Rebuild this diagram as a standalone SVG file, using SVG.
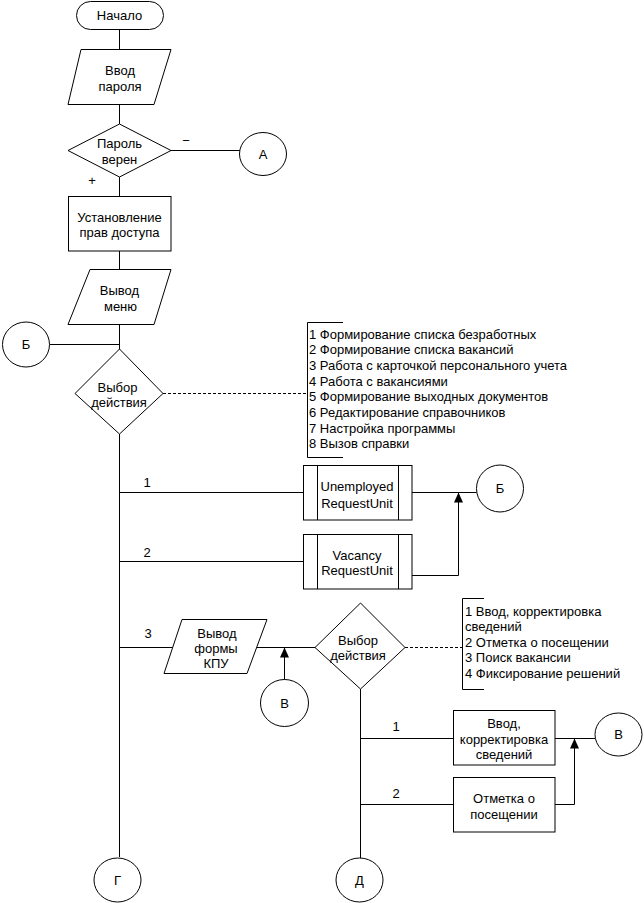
<svg xmlns="http://www.w3.org/2000/svg" width="644" height="903" viewBox="0 0 644 903">
<style>
.s{fill:#fff;stroke:#000;stroke-width:1}
.l{fill:none;stroke:#000;stroke-width:1}
.d{fill:none;stroke:#000;stroke-width:1;stroke-dasharray:3,2}
text{font-family:"Liberation Sans",Arial,sans-serif;font-size:13px;fill:#000}
.c{text-anchor:middle}
</style>
<defs>
<marker id="ah" markerUnits="userSpaceOnUse" markerWidth="10" markerHeight="9" refX="10" refY="4.5" orient="auto">
<path d="M0,0 L10,4.5 L0,9 z" fill="#000"/>
</marker>
</defs>
<g id="connectors">
<path class="l" d="M119.5,29 V49"/>
<path class="l" d="M119.5,104 V124"/>
<path class="l" d="M119.5,177 V196"/>
<path class="l" d="M119.5,251 V269"/>
<path class="l" d="M119.5,324 V349"/>
<path class="l" d="M119.5,434 V857"/>
<path class="l" d="M171,150.5 H240"/>
<path class="l" d="M49.5,344.5 H119.5"/>
<path class="d" d="M163,393.5 H307"/>
<path class="l" d="M119.5,492.5 H303"/>
<path class="l" d="M119.5,561.5 H303"/>
<path class="l" d="M412,492.5 H476.5"/>
<path class="l" d="M412,575.5 H458.5 V492.5" marker-end="url(#ah)"/>
<path class="l" d="M119.5,647.5 H173"/>
<path class="l" d="M257,647.5 H315"/>
<path class="l" d="M284.5,680 V647.5" marker-end="url(#ah)"/>
<path class="l" d="M360.5,689 V858"/>
<path class="d" d="M405,647.5 H462"/>
<path class="l" d="M360.5,738.5 H453"/>
<path class="l" d="M360.5,804.5 H453"/>
<path class="l" d="M555,738.5 H595"/>
<path class="l" d="M555,804.5 H574.5 V738.5" marker-end="url(#ah)"/>
<text x="186" y="144.5" class="c">−</text>
<text x="92" y="184.5" class="c">+</text>
<text x="147" y="486.5" class="c">1</text>
<text x="147" y="556.5" class="c">2</text>
<text x="148" y="637.5" class="c">3</text>
<text x="396" y="730.5" class="c">1</text>
<text x="396" y="797.5" class="c">2</text>
</g>
<g id="start">
<rect class="s" x="76.5" y="1.5" width="87" height="28" rx="14" ry="14"/>
<text x="119.5" y="19.5" class="c">Начало</text>
</g>
<g id="input-password">
<polygon class="s" points="81,49.5 171,49.5 154,104.5 68,104.5"/>
<text x="120" y="74.5" class="c">Ввод</text>
<text x="120" y="90.5" class="c">пароля</text>
</g>
<g id="check-password">
<polygon class="s" points="119.5,124 171,150.5 119.5,177 68,150.5"/>
<text x="119.5" y="147.5" class="c">Пароль</text>
<text x="119.5" y="163.5" class="c">верен</text>
</g>
<g id="conn-A">
<ellipse class="s" cx="263" cy="154" rx="23.5" ry="21.5"/>
<text x="263" y="158.5" class="c">А</text>
</g>
<g id="set-rights">
<rect class="s" x="68.5" y="196.5" width="102.5" height="54.5"/>
<text x="119.5" y="221.5" class="c">Установление</text>
<text x="119.5" y="236.5" class="c">прав доступа</text>
</g>
<g id="output-menu">
<polygon class="s" points="90,269.5 171,269.5 154,324.5 68,324.5"/>
<text x="119.5" y="294.5" class="c">Вывод</text>
<text x="120.5" y="310.5" class="c">меню</text>
</g>
<g id="conn-B-left">
<ellipse class="s" cx="26" cy="344.5" rx="23.5" ry="22.5"/>
<text x="26" y="349" class="c">Б</text>
</g>
<g id="choose-action">
<polygon class="s" points="119.5,349 163,393.5 119.5,434 75,393.5"/>
<text x="117.5" y="391.5" class="c">Выбор</text>
<text x="119" y="406.5" class="c">действия</text>
</g>
<g id="menu-list">
<path class="l" d="M343,322.5 H307.5 V457.5 H343"/>
<text x="309" y="338.5">1 Формирование списка безработных</text>
<text x="309" y="354.2">2 Формирование списка вакансий</text>
<text x="309" y="369.9">3 Работа с карточкой персонального учета</text>
<text x="309" y="385.6">4 Работа с вакансиями</text>
<text x="309" y="401.3">5 Формирование выходных документов</text>
<text x="309" y="417">6 Редактирование справочников</text>
<text x="309" y="432.7">7 Настройка программы</text>
<text x="309" y="448.4">8 Вызов справки</text>
</g>
<g id="unemployed-unit">
<rect class="s" x="303.5" y="465.5" width="108.5" height="54.5"/>
<path class="l" d="M317.5,465.5 V520 M398.5,465.5 V520"/>
<text x="357" y="490.5" class="c">Unemployed</text>
<text x="357" y="507.5" class="c">RequestUnit</text>
</g>
<g id="vacancy-unit">
<rect class="s" x="303.5" y="534.5" width="108.5" height="54.5"/>
<path class="l" d="M317.5,534.5 V589 M398.5,534.5 V589"/>
<text x="357" y="559.5" class="c">Vacancy</text>
<text x="357" y="574.5" class="c">RequestUnit</text>
</g>
<g id="conn-B-right">
<ellipse class="s" cx="500" cy="488.5" rx="23.5" ry="23.5"/>
<text x="500" y="493" class="c">Б</text>
</g>
<g id="output-kpu">
<polygon class="s" points="182,619.5 267,619.5 247,673.5 164,673.5"/>
<text x="217" y="638" class="c">Вывод</text>
<text x="216" y="653" class="c">формы</text>
<text x="216" y="668" class="c">КПУ</text>
</g>
<g id="conn-V-lower">
<ellipse class="s" cx="284.5" cy="703" rx="24" ry="23.5"/>
<text x="284.5" y="707.5" class="c">В</text>
</g>
<g id="choose-action-2">
<polygon class="s" points="360.5,603 405,647.5 360.5,689 315,647.5"/>
<text x="358" y="644.5" class="c">Выбор</text>
<text x="358" y="659.5" class="c">действия</text>
</g>
<g id="kpu-list">
<path class="l" d="M484,598.5 H462.5 V689.5 H484"/>
<text x="465" y="615.5">1 Ввод, корректировка</text>
<text x="465" y="630.5">сведений</text>
<text x="465" y="646.5">2 Отметка о посещении</text>
<text x="465" y="661.5">3 Поиск вакансии</text>
<text x="465" y="677.5">4 Фиксирование решений</text>
</g>
<g id="edit-info">
<rect class="s" x="453.5" y="710.5" width="101.5" height="54.5"/>
<text x="504" y="727.5" class="c">Ввод,</text>
<text x="504" y="743.5" class="c">корректировка</text>
<text x="504" y="758.5" class="c">сведений</text>
</g>
<g id="mark-visit">
<rect class="s" x="453.5" y="777.5" width="101.5" height="54.5"/>
<text x="504" y="802.5" class="c">Отметка о</text>
<text x="504" y="818.5" class="c">посещении</text>
</g>
<g id="conn-V-right">
<ellipse class="s" cx="618.5" cy="734.5" rx="23.5" ry="21.5"/>
<text x="618.5" y="739" class="c">В</text>
</g>
<g id="conn-G">
<ellipse class="s" cx="117.5" cy="880" rx="23.5" ry="22"/>
<text x="117.5" y="884.5" class="c">Г</text>
</g>
<g id="conn-D">
<ellipse class="s" cx="359.5" cy="880" rx="23.5" ry="22"/>
<text x="359.5" y="884.5" class="c">Д</text>
</g>
</svg>
